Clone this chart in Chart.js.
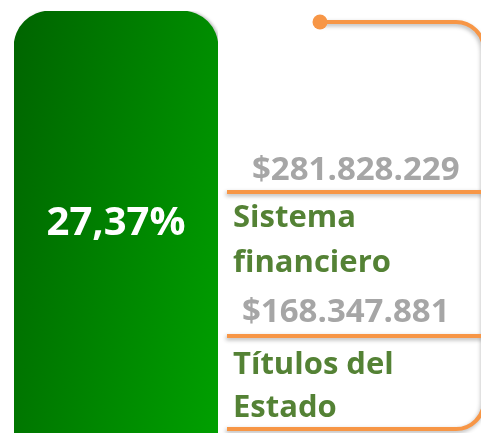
<!DOCTYPE html>
<html>
<head>
<meta charset="utf-8">
<script src="https://cdn.jsdelivr.net/npm/chart.js@4"></script>
<style>
  html, body { margin: 0; padding: 0; background: #ffffff; }
  #chart { display: block; }
</style>
</head>
<body>
<canvas id="chart" width="481" height="433"></canvas>
<script>
// datos
var shareLabel = ['Participación'];
var sharePct = [27.37];
var categories = [['Sistema', 'financiero'], ['Títulos del', 'Estado']];
var amounts = [281828229, 168347881];

var ORANGE = '#f79646';
var GRAY = '#a6a6a6';
var GREEN_TXT = '#548235';
var FONT = '"Open Sans", sans-serif';

function fmtMoney(v) {
    return '$' + String(v).replace(/\B(?=(\d{3})+(?!\d))/g, '.');
}
function fmtPct(v) {
    return v.toFixed(2).replace('.', ',') + '%';
}

// gradiente de la barra
function barGradient(context) {
    var area = context.chart.chartArea;
    if (!area) return '#008000';
    var c = context.chart.ctx;
    var g = c.createLinearGradient(area.left, area.top, area.left + 283, area.top + 62);
    g.addColorStop(0, '#006400');
    g.addColorStop(1, '#00a000');
    return g;
}

// sombra de la barra
var barShadow = {
    id: 'barShadow',
    beforeDatasetsDraw: function (chart) {
        var c = chart.ctx;
        c.save();
        c.shadowColor = 'rgba(0,0,0,0.25)';
        c.shadowOffsetX = 2;
        c.shadowBlur = 3;
    },
    afterDatasetsDraw: function (chart) {
        chart.ctx.restore();
    }
};

// textos y lineas a la derecha
var sideInfo = {
    id: 'sideInfo',
    afterDraw: function (chart) {
        var c = chart.ctx;
        var bar = chart.getDatasetMeta(0).data[0];

        // porcentaje dentro de la barra
        c.save();
        c.fillStyle = '#ffffff';
        c.font = 'bold 40px ' + FONT;
        c.textAlign = 'center';
        c.textBaseline = 'alphabetic';
        c.fillText(fmtPct(sharePct[0]), bar.x, 235);
        c.restore();

        // corchete naranja
        c.save();
        c.strokeStyle = ORANGE;
        c.lineWidth = 4;
        c.shadowColor = 'rgba(0,0,0,0.3)';
        c.shadowOffsetX = -1;
        c.shadowOffsetY = 2;
        c.shadowBlur = 4;
        c.beginPath();
        c.moveTo(320, 22);
        c.lineTo(455, 22);
        c.arcTo(484, 22, 484, 51, 28);
        c.lineTo(484, 400);
        c.arcTo(484, 429, 455, 429, 28);
        c.lineTo(227, 429);
        c.stroke();

        var sepY = [192, 336];
        sepY.forEach(function (y) {
            c.beginPath();
            c.moveTo(227, y);
            c.lineTo(484, y);
            c.stroke();
        });
        c.shadowColor = 'transparent';
        c.fillStyle = ORANGE;
        c.beginPath();
        c.arc(320, 22, 7.5, 0, Math.PI * 2);
        c.fill();
        c.restore();

        // montos y categorias
        var valX = [252, 242];
        var valY = [180, 322];
        var catY = [[227, 272], [374, 417]];
        c.save();
        c.textAlign = 'left';
        c.textBaseline = 'alphabetic';
        amounts.forEach(function (v, i) {
            c.fillStyle = GRAY;
            c.font = 'bold 33px ' + FONT;
            c.fillText(fmtMoney(v), valX[i], valY[i]);
            c.fillStyle = GREEN_TXT;
            c.font = 'bold 31px ' + FONT;
            categories[i].forEach(function (line, j) {
                c.fillText(line, 233, catY[i][j]);
            });
        });
        c.restore();
    }
};

var ctx = document.getElementById('chart').getContext('2d');
var chart = new Chart(ctx, {
    type: 'bar',
    data: {
        labels: shareLabel,
        datasets: [{
            data: sharePct,
            backgroundColor: barGradient,
            borderWidth: 0,
            borderRadius: { topLeft: 36, topRight: 36, bottomLeft: 0, bottomRight: 0 },
            borderSkipped: false,
            barPercentage: 1,
            categoryPercentage: 1
        }]
    },
    options: {
        responsive: false,
        devicePixelRatio: 1,
        animation: false,
        layout: { padding: { left: 14, right: 263, top: 11, bottom: 0 } },
        plugins: { legend: { display: false }, tooltip: { enabled: false } },
        scales: {
            x: { display: false },
            y: { display: false, min: 0, max: sharePct[0] }
        }
    },
    plugins: [barShadow, sideInfo]
});
</script>
</body>
</html>
